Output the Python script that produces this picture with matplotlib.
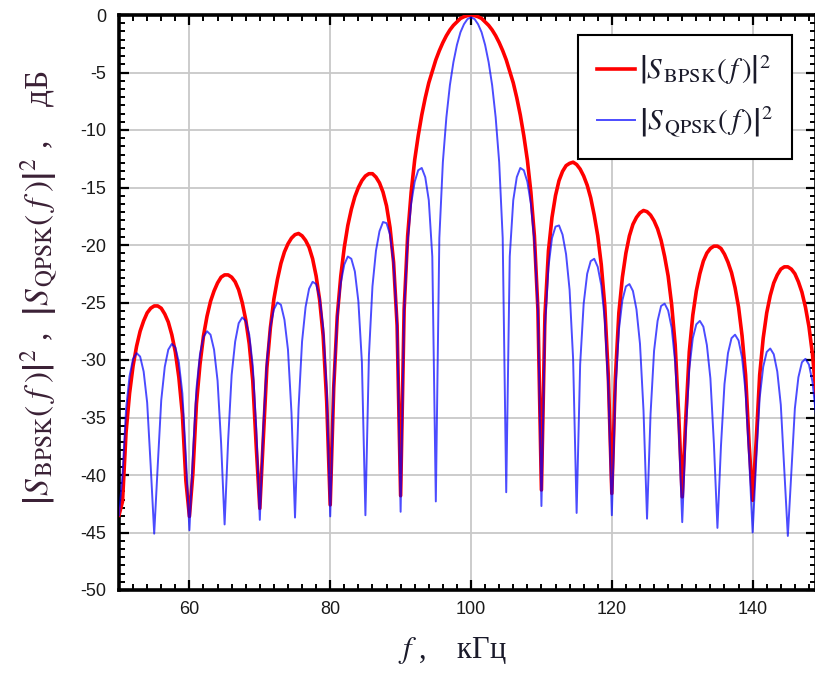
import numpy as np
import matplotlib
matplotlib.use("Agg")
import matplotlib.pyplot as plt
from matplotlib.ticker import MultipleLocator, AutoMinorLocator

plt.rcParams['font.family'] = ['Liberation Sans', 'DejaVu Sans']
plt.rcParams['mathtext.fontset'] = 'stix'
plt.rcParams['axes.unicode_minus'] = False

# frequency sample grid, kHz (50 ... 149 step 0.5)
freq_khz = np.arange(50.0, 149.01, 0.5)

# |S_BPSK(f)|^2, dB
bpsk_db = [
    -43.5,
    -42.3, -36.3, -32.9, -30.5, -28.8, -27.5, -26.6, -25.9, -25.5, -25.3,
    -25.3, -25.5, -26.0, -26.7, -27.8, -29.3, -31.5, -34.7, -40.5,
    -43.6,
    -39.8, -33.8, -30.4, -27.9, -26.2, -24.9, -24.0, -23.3, -22.8, -22.6,
    -22.6, -22.8, -23.2, -23.9, -25.0, -26.5, -28.6, -31.8, -37.6,
    -42.9,
    -36.8, -30.7, -27.2, -24.7, -23.0, -21.6, -20.6, -19.9, -19.4, -19.1,
    -19.0, -19.2, -19.6, -20.2, -21.2, -22.7, -24.8, -27.9, -33.6,
    -42.6,
    -32.4, -26.2, -22.7, -20.2, -18.3, -16.9, -15.8, -15.0, -14.4, -14.0,
    -13.8, -13.8, -14.1, -14.6, -15.4, -16.6, -18.5, -21.5, -27.0,
    -41.8,
    -25.6, -19.2, -15.4, -12.6, -10.5, -8.7, -7.2, -5.9, -4.9, -3.9,
    -3.1, -2.4, -1.8, -1.3, -0.9, -0.6, -0.3, -0.15, -0.05, 0.0,
    -0.05, -0.15, -0.3, -0.6, -0.9, -1.3, -1.8, -2.4, -3.1, -3.9,
    -4.9, -5.9, -7.2, -8.7, -10.5, -12.6, -15.4, -19.2, -25.6,
    -41.3,
    -26.1, -20.5, -17.6, -15.7, -14.4, -13.6, -13.1, -12.9, -12.8, -13.0,
    -13.4, -14.0, -14.8, -15.9, -17.4, -19.2, -21.7, -25.3, -31.4,
    -41.6,
    -31.6, -25.9, -22.8, -20.7, -19.2, -18.2, -17.6, -17.2, -17.0, -17.1,
    -17.4, -17.9, -18.6, -19.6, -21.0, -22.7, -25.2, -28.7, -34.8,
    -41.9,
    -35.1, -29.3, -26.1, -24.0, -22.5, -21.4, -20.7, -20.3, -20.1, -20.1,
    -20.3, -20.8, -21.5, -22.4, -23.7, -25.4, -27.9, -31.3, -37.3,
    -42.2,
    -37.1, -31.3, -28.1, -25.9, -24.4, -23.3, -22.6, -22.1, -21.9, -21.9,
    -22.1, -22.5, -23.2, -24.1, -25.4, -27.1, -29.5, -32.9,
]

# |S_QPSK(f)|^2, dB
qpsk_db = [
    -43.5,
    -40.0, -34.3, -31.4, -29.9, -29.4, -29.7, -31.0, -33.7, -39.2,
    -45.1,
    -39.2, -33.5, -30.6, -29.1, -28.6, -28.9, -30.2, -32.9, -38.4,
    -44.8,
    -38.2, -32.5, -29.5, -28.0, -27.5, -27.8, -29.1, -31.8, -37.2,
    -44.3,
    -37.0, -31.3, -28.4, -26.8, -26.3, -26.6, -27.8, -30.5, -36.0,
    -43.9,
    -35.8, -30.1, -27.1, -25.6, -25.0, -25.2, -26.5, -29.1, -34.6,
    -43.7,
    -34.2, -28.4, -25.4, -23.8, -23.2, -23.4, -24.6, -27.2, -32.6,
    -43.6,
    -32.2, -26.3, -23.3, -21.7, -21.0, -21.2, -22.3, -24.9, -30.2,
    -43.5,
    -29.6, -23.6, -20.5, -18.8, -18.0, -18.1, -19.1, -21.6, -26.8,
    -43.2,
    -25.7, -19.7, -16.4, -14.5, -13.5, -13.3, -14.1, -16.1, -21.0,
    -42.3,
    -19.4, -12.8, -8.9, -6.1, -4.1, -2.6, -1.5, -0.8, -0.35, -0.2,
    -0.35, -0.8, -1.5, -2.6, -4.1, -6.1, -8.9, -12.8, -19.4,
    -41.5,
    -21.0, -16.1, -14.1, -13.3, -13.5, -14.5, -16.4, -19.7, -25.7,
    -42.7,
    -27.1, -21.9, -19.4, -18.4, -18.3, -19.1, -20.8, -23.9, -29.9,
    -43.3,
    -30.4, -25.1, -22.5, -21.4, -21.2, -21.9, -23.5, -26.5, -32.4,
    -43.5,
    -32.8, -27.4, -24.8, -23.6, -23.4, -24.0, -25.6, -28.6, -34.4,
    -43.8,
    -34.7, -29.2, -26.6, -25.3, -25.1, -25.7, -27.2, -30.2, -35.9,
    -44.1,
    -36.3, -30.8, -28.1, -26.9, -26.6, -27.1, -28.7, -31.6, -37.3,
    -44.6,
    -37.5, -32.1, -29.4, -28.1, -27.8, -28.3, -29.8, -32.8, -38.5,
    -45.0,
    -38.8, -33.3, -30.6, -29.3, -29.0, -29.5, -31.0, -33.9, -39.6,
    -45.3,
    -39.7, -34.2, -31.5, -30.2, -29.9, -30.4, -31.9, -34.8,
]

label_bpsk = r'$\left|S_{\,\mathrm{BPSK}}(\,f\,)\right|^2$'
label_qpsk = r'$\left|S_{\,\mathrm{QPSK}}(\,f\,)\right|^2$'
ylabel_text = (r'$\left|S_{\,\mathrm{BPSK}}(\;f\;)\right|^2$ ,  '
               r'$\left|S_{\,\mathrm{QPSK}}(\;f\;)\right|^2$ ,    дБ')
xlabel_text = r'$f$ ,    кГц'
xlim = (50, 149)
ylim = (-50, 0)

W, H = 815, 677
fig = plt.figure(figsize=(W / 100, H / 100), dpi=100)
ax = fig.add_axes([119 / W, 87 / H, 697 / W, 575 / H])

ax.plot(freq_khz, bpsk_db, color='#ff0000', lw=2.6, label=label_bpsk, zorder=3)
ax.plot(freq_khz, qpsk_db, color='#0000ff', lw=1.4, alpha=0.7, label=label_qpsk, zorder=4)

ax.set_xlim(*xlim)
ax.set_ylim(*ylim)
ax.xaxis.set_major_locator(MultipleLocator(20))
ax.xaxis.set_minor_locator(MultipleLocator(2))
ax.yaxis.set_major_locator(MultipleLocator(5))
ax.yaxis.set_minor_locator(AutoMinorLocator(7))
ax.grid(True, which='major', color='#c8c8c8', lw=1.3)
ax.set_axisbelow(True)

for sp in ax.spines.values():
    sp.set_linewidth(2.6)
    sp.set_color('black')
ax.tick_params(which='both', direction='in', top=True, right=True, color='black')
ax.tick_params(which='major', length=7.5, width=1.6, labelsize=13, labelcolor='#1a1a1a', pad=8)
ax.tick_params(which='minor', length=4, width=1.4)
ax.tick_params(axis='y', which='major', pad=9)

leg = ax.legend(loc='upper right', bbox_to_anchor=(0.966, 0.966), fontsize=21,
                frameon=True, fancybox=False, edgecolor='black', framealpha=1,
                handlelength=1.3, handletextpad=0.15, borderpad=0.65,
                labelspacing=0.6, borderaxespad=0)
leg.get_frame().set_linewidth(1.5)
for t in leg.get_texts():
    t.set_color('#1a1a2a')

fig.text(452 / W, 1 - 650 / H, xlabel_text, ha='center', va='center',
         fontsize=22, family=['Liberation Serif', 'DejaVu Serif'], color='#1a1a2a')
fig.text(40 / W, 1 - 288 / H, ylabel_text, ha='center', va='center', rotation=90,
         fontsize=24, family=['Liberation Serif', 'DejaVu Serif'], color='#3a2035')

fig.savefig('out.png', dpi=100)
